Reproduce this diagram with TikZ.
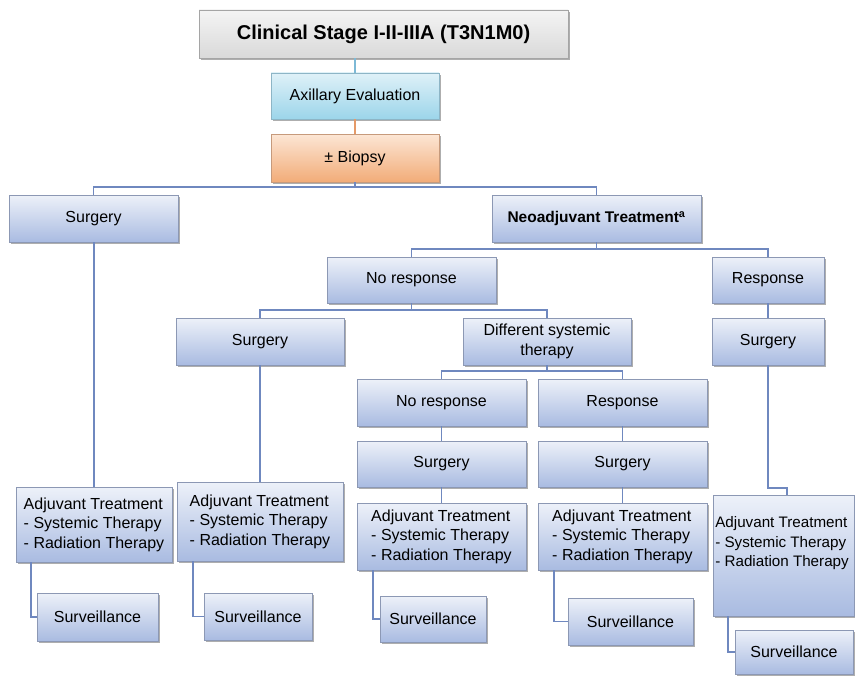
\documentclass[tikz,border=0pt]{standalone}
\usepackage{fontspec}
\setmainfont{Liberation Sans}
\usetikzlibrary{shadows}
\definecolor{bluetop}{HTML}{EDF1F9}
\definecolor{bluebot}{HTML}{A9BBE1}
\definecolor{blueedge}{HTML}{8C98B4}
\definecolor{graytop}{HTML}{F4F4F4}
\definecolor{graybot}{HTML}{D9D9D9}
\definecolor{grayedge}{HTML}{A5A5A5}
\definecolor{cyantop}{HTML}{DFF1F8}
\definecolor{cyanbot}{HTML}{9CD5EA}
\definecolor{cyanedge}{HTML}{8DB5C6}
\definecolor{orgtop}{HTML}{FCE6D5}
\definecolor{orgbot}{HTML}{F2AC78}
\definecolor{orgedge}{HTML}{C69A7C}
\definecolor{linkc}{HTML}{6F88BF}
\definecolor{linkcyan}{HTML}{7DB9D6}
\definecolor{linkorg}{HTML}{E59A68}
\tikzset{
  box/.style={draw=blueedge, line width=0.8pt, top color=bluetop, bottom color=bluebot,
    inner sep=0pt, align=center, font=\fontsize{16}{19.5}\selectfont,
    drop shadow={shadow xshift=1.5pt, shadow yshift=-2pt, opacity=0.45, fill=black!70}},
  bw/.style n args={2}{minimum width=#1pt, minimum height=#2pt},
  link/.style={draw=linkc, line width=1.9pt},
}
\begin{document}
\begin{tikzpicture}[x=1pt, y=-1pt]
\useasboundingbox (0,0) rectangle (855,677);
% top chain
\node[box, bw={369}{48}, top color=graytop, bottom color=graybot, draw=grayedge,
  font=\fontsize{20}{24}\selectfont\bfseries] (top) at (383.5,34) {Clinical Stage I-II-IIIA (T3N1M0)};
\node[box, bw={168}{46}, top color=cyantop, bottom color=cyanbot, draw=cyanedge] (axil) at (355,96) {Axillary Evaluation};
\node[box, bw={168}{48}, top color=orgtop, bottom color=orgbot, draw=orgedge] (biop) at (355,158) {± Biopsy};
% level 1
\node[box, bw={169}{47}] (surg1) at (93.5,218.5) {Surgery};
\node[box, bw={209}{47}, font=\fontsize{15.5}{19.5}\selectfont\bfseries] (neo) at (596.5,218.5) {Neoadjuvant Treatment\textsuperscript{a}};
% level 2
\node[box, bw={169}{46}] (nr1) at (411.5,280) {No response};
\node[box, bw={112}{46}] (resp1) at (768,280) {Response};
% level 3
\node[box, bw={168}{47}] (surg2) at (260,341.5) {Surgery};
\node[box, bw={168}{47}] (diff) at (547,341.5) {Different systemic\\therapy};
\node[box, bw={112}{47}] (surgR) at (768,341.5) {Surgery};
% level 4
\node[box, bw={169}{47}] (nr2) at (441.5,402.5) {No response};
\node[box, bw={169}{47}] (resp2) at (622.5,402.5) {Response};
\node[box, bw={169}{46}] (surgNR2) at (441.5,464) {Surgery};
\node[box, bw={169}{46}] (surgR2) at (622.5,464) {Surgery};
% adjuvant boxes
\node[box, bw={156}{75}, align=left] (adjL1) at (94,524.5) {Adjuvant Treatment\\- Systemic Therapy\\- Radiation Therapy};
\node[box, bw={166}{79}, align=left] (adjL2) at (260,521.5) {Adjuvant Treatment\\- Systemic Therapy\\- Radiation Therapy};
\node[box, bw={169}{67}, align=left] (adjNR2) at (441.5,536.5) {Adjuvant Treatment\\- Systemic Therapy\\- Radiation Therapy};
\node[box, bw={169}{67}, align=left] (adjR2) at (622.5,536.5) {Adjuvant Treatment\\- Systemic Therapy\\- Radiation Therapy};
\node[box, bw={141}{121}, label={[anchor=north west, align=left, inner sep=0pt,
  font=\fontsize{15.2}{19.5}\selectfont, yshift=-22pt, xshift=2.5pt]north west:Adjuvant Treatment\\- Systemic Therapy\\- Radiation Therapy}] (adjR) at (783.5,555.5) {};
% surveillance
\node[box, bw={121}{48}] (survL1) at (97.5,617) {Surveillance};
\node[box, bw={108}{47}] (survL2) at (258,616.5) {Surveillance};
\node[box, bw={106}{46}] (survNR2) at (433,619) {Surveillance};
\node[box, bw={125}{47}] (survR2) at (630.5,621.5) {Surveillance};
\node[box, bw={118}{44}] (survR) at (794,652) {Surveillance};
% bus coordinates
\coordinate (bus1) at (0,187);
\coordinate (bus2) at (0,249);
\coordinate (bus3) at (0,310);
\coordinate (bus4) at (0,371);
\coordinate (bus5) at (0,488);
% connectors
\draw[draw=linkcyan, line width=1.9pt] (axil.north) -- (axil.north |- top.south);
\draw[draw=linkorg, line width=1.9pt] (biop.north) -- (axil.south);
\draw[link] (biop.south) -- (biop.south |- bus1) -| (surg1.north);
\draw[link] (biop.south |- bus1) -| (neo.north);
\draw[link] (neo.south) -- (neo.south |- bus2) -| (nr1.north);
\draw[link] (neo.south |- bus2) -| (resp1.north);
\draw[link] (nr1.south) -- (nr1.south |- bus3) -| (surg2.north);
\draw[link] (nr1.south |- bus3) -| (diff.north);
\draw[link] (resp1.south) -- (surgR.north);
\draw[link] (diff.south) -- (diff.south |- bus4) -| (nr2.north);
\draw[link] (diff.south |- bus4) -| (resp2.north);
\draw[link] (nr2.south) -- (surgNR2.north);
\draw[link] (surgNR2.south) -- (adjNR2.north);
\draw[link] (resp2.south) -- (surgR2.north);
\draw[link] (surgR2.south) -- (adjR2.north);
\draw[link] ([xshift=0.5pt]surg1.south) -- ([xshift=0.5pt]surg1.south |- adjL1.north);
\draw[link] (surg2.south) -- (surg2.south |- adjL2.north);
\draw[link] (surgR.south) -- (surgR.south |- bus5) -| ([xshift=3.5pt]adjR.north);
\draw[link] ([xshift=15pt]adjL1.south west) |- (survL1.west);
\draw[link] ([xshift=16pt]adjL2.south west) |- (survL2.west);
\draw[link] ([xshift=16pt]adjNR2.south west) |- (survNR2.west);
\draw[link] ([xshift=16pt]adjR2.south west) |- (survR2.west);
\draw[link] ([xshift=15pt]adjR.south west) |- (survR.west);
\end{tikzpicture}
\end{document}
